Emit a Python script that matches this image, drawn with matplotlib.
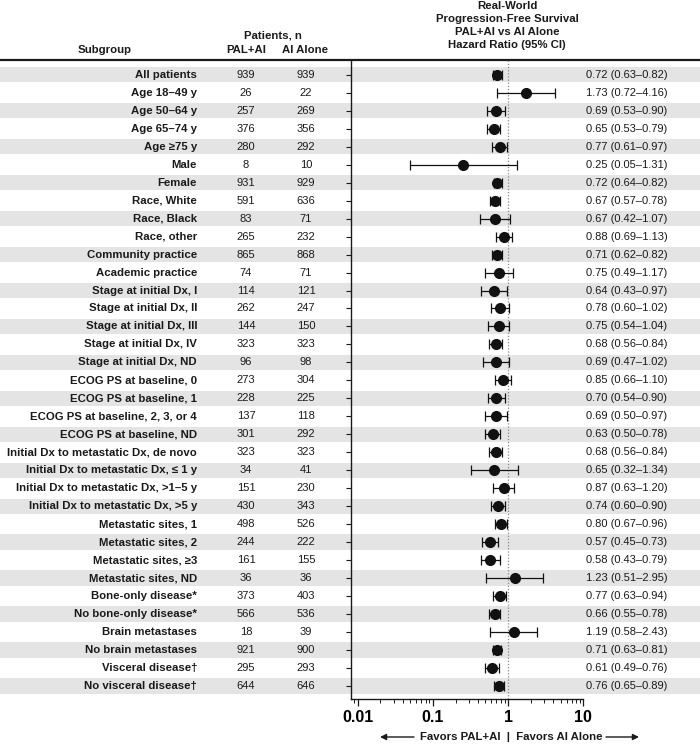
import matplotlib
matplotlib.use('Agg')
import matplotlib.pyplot as plt
import numpy as np
from matplotlib.ticker import LogLocator, NullFormatter

plt.rcParams['font.family'] = ['Liberation Sans', 'DejaVu Sans']

subgroups = [
    "All patients", "Age 18–49 y", "Age 50–64 y", "Age 65–74 y", "Age ≥75 y",
    "Male", "Female", "Race, White", "Race, Black", "Race, other",
    "Community practice", "Academic practice",
    "Stage at initial Dx, I", "Stage at initial Dx, II", "Stage at initial Dx, III",
    "Stage at initial Dx, IV", "Stage at initial Dx, ND",
    "ECOG PS at baseline, 0", "ECOG PS at baseline, 1",
    "ECOG PS at baseline, 2, 3, or 4", "ECOG PS at baseline, ND",
    "Initial Dx to metastatic Dx, de novo", "Initial Dx to metastatic Dx, ≤ 1 y",
    "Initial Dx to metastatic Dx, >1–5 y", "Initial Dx to metastatic Dx, >5 y",
    "Metastatic sites, 1", "Metastatic sites, 2", "Metastatic sites, ≥3",
    "Metastatic sites, ND", "Bone-only disease*", "No bone-only disease*",
    "Brain metastases", "No brain metastases", "Visceral disease†",
    "No visceral disease†",
]
pal_n = [939, 26, 257, 376, 280, 8, 931, 591, 83, 265, 865, 74, 114, 262, 144,
         323, 96, 273, 228, 137, 301, 323, 34, 151, 430, 498, 244, 161, 36, 373,
         566, 18, 921, 295, 644]
ai_n = [939, 22, 269, 356, 292, 10, 929, 636, 71, 232, 868, 71, 121, 247, 150,
        323, 98, 304, 225, 118, 292, 323, 41, 230, 343, 526, 222, 155, 36, 403,
        536, 39, 900, 293, 646]
hr = [0.72, 1.73, 0.69, 0.65, 0.77, 0.25, 0.72, 0.67, 0.67, 0.88, 0.71, 0.75,
      0.64, 0.78, 0.75, 0.68, 0.69, 0.85, 0.70, 0.69, 0.63, 0.68, 0.65, 0.87,
      0.74, 0.80, 0.57, 0.58, 1.23, 0.77, 0.66, 1.19, 0.71, 0.61, 0.76]
ci_low = [0.63, 0.72, 0.53, 0.53, 0.61, 0.05, 0.64, 0.57, 0.42, 0.69, 0.62, 0.49,
          0.43, 0.60, 0.54, 0.56, 0.47, 0.66, 0.54, 0.50, 0.50, 0.56, 0.32, 0.63,
          0.60, 0.67, 0.45, 0.43, 0.51, 0.63, 0.55, 0.58, 0.63, 0.49, 0.65]
ci_high = [0.82, 4.16, 0.90, 0.79, 0.97, 1.31, 0.82, 0.78, 1.07, 1.13, 0.82, 1.17,
           0.97, 1.02, 1.04, 0.84, 1.02, 1.10, 0.90, 0.97, 0.78, 0.84, 1.34, 1.20,
           0.90, 0.96, 0.73, 0.79, 2.95, 0.94, 0.78, 2.43, 0.81, 0.76, 0.89]
x_ticks = [0.01, 0.1, 1, 10]
x_tick_labels = ["0.01", "0.1", "1", "10"]

W, H = 700, 744
fig = plt.figure(figsize=(7, 7.44), dpi=100)
n = len(subgroups)

ax_left, ax_right = 350.7 / W, 583.3 / W
top_px, bot_px = 60, 699
rect = [ax_left, 1 - bot_px / H, ax_right - ax_left, (bot_px - top_px) / H]
ylim = (n - 1 + 0.72, -0.82)

# background axes for bands and table text
bg = fig.add_axes([0, rect[1], 1, rect[3]], zorder=0)
bg.set_xlim(0, 1)
bg.set_ylim(*ylim)
bg.axis('off')
for i in range(0, n, 2):
    bg.axhspan(i - 0.43, i + 0.43, color='#e4e4e4', lw=0)
bg.axhline(ylim[1], color='#1a1a1a', lw=1.6, clip_on=False)

txt_col = '#1a1a1a'
for i in range(n):
    bg.text(197 / W, i, subgroups[i], ha='right', va='center',
            fontsize=8.2, fontweight='bold', color=txt_col)
    bg.text(246 / W, i, str(pal_n[i]), ha='center', va='center',
            fontsize=8, color=txt_col)
    bg.text(306 / W, i, str(ai_n[i]), ha='center', va='center',
            fontsize=8, color=txt_col)
    lab = f"{hr[i]:.2f} ({ci_low[i]:.2f}–{ci_high[i]:.2f})"
    bg.text(586 / W, i, lab, ha='left', va='center', fontsize=8,
            family=['Liberation Sans Narrow', 'Liberation Sans'], color=txt_col)

# forest axes
ax = fig.add_axes(rect, zorder=1)
ax.patch.set_alpha(0)
ax.set_xscale('log')
ax.set_xlim(10 ** (-2 - 7.0 / 75.2), 10)
ax.set_ylim(*ylim)
y = np.arange(n)
hr_a = np.array(hr)
xerr = [hr_a - np.array(ci_low), np.array(ci_high) - hr_a]
ax.axvline(1, color='#888888', lw=0.9, ls=(0, (1, 1.5)), zorder=1)
ax.errorbar(hr_a, y, xerr=xerr, fmt='o', color='#111111', ms=7, capsize=3.3,
            elinewidth=0.9, capthick=0.9, zorder=3)
for s in ['top', 'right']:
    ax.spines[s].set_visible(False)
for s in ['left', 'bottom']:
    ax.spines[s].set_linewidth(1.0)
    ax.spines[s].set_color('#1a1a1a')
ax.set_yticks(y)
ax.set_yticklabels([])
ax.tick_params(axis='y', length=3.5, width=0.8, color='#1a1a1a')
ax.set_xticks(x_ticks)
ax.set_xticklabels(x_tick_labels, fontsize=11.5, fontweight='bold')
ax.xaxis.set_minor_locator(LogLocator(base=10, subs=np.arange(2, 10)))
ax.xaxis.set_minor_formatter(NullFormatter())
ax.tick_params(axis='x', which='major', length=5, width=0.9, pad=3, color='#1a1a1a')
ax.tick_params(axis='x', which='minor', length=3, width=0.7, color='#1a1a1a')

# headers
hb = dict(fontsize=8.2, fontweight='bold', color=txt_col, va='center')
fig.text(105 / W, 1 - 50 / H, "Subgroup", ha='center', **hb)
fig.text(273 / W, 1 - 36 / H, "Patients, n", ha='center', **hb)
fig.text(246 / W, 1 - 50 / H, "PAL+AI", ha='center', **hb)
fig.text(305 / W, 1 - 50 / H, "AI Alone", ha='center', **hb)
hr_head = ["Real-World", "Progression-Free Survival", "PAL+AI vs AI Alone",
           "Hazard Ratio (95% CI)"]
for k, line in enumerate(hr_head):
    fig.text(507 / W, 1 - (6 + 13 * k) / H, line, ha='center', **hb)

# favors text and arrows
fy = 1 - 737 / H
fig.text(511 / W, fy, "Favors PAL+AI  |  Favors AI Alone", ha='center',
         va='center', fontsize=8.2, fontweight='bold', color=txt_col)
ap = dict(arrowstyle='-|>', lw=1.0, color='#1a1a1a', mutation_scale=9,
          shrinkA=0, shrinkB=0)
fig.add_artist(matplotlib.patches.FancyArrowPatch((414 / W, fy), (380 / W, fy),
               transform=fig.transFigure, **ap))
fig.add_artist(matplotlib.patches.FancyArrowPatch((606 / W, fy), (639 / W, fy),
               transform=fig.transFigure, **ap))

fig.savefig('out.png', dpi=100)
